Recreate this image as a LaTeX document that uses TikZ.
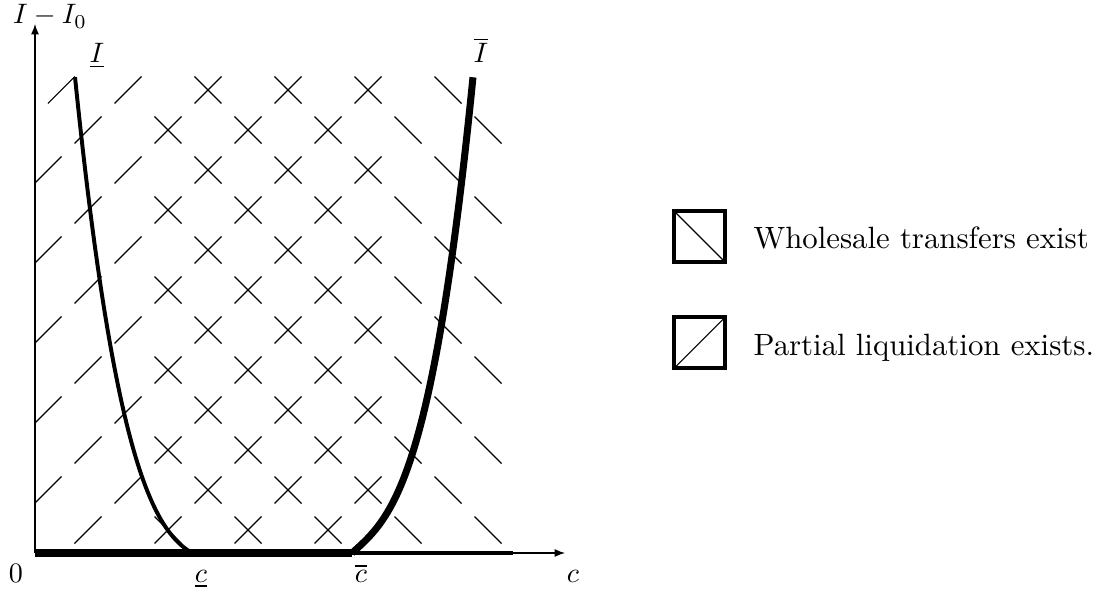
\documentclass[tikz,border=0pt]{standalone}
\usepackage{amsmath}
\usepackage{tikz}
\usetikzlibrary{arrows.meta,positioning}

\begin{document}
\begin{tikzpicture}[>=Latex,x=0.5cm,y=0.5cm,
  hatch/.style={line width=0.4pt},
  axislab/.style={anchor=base,font=\fontsize{10}{12}\selectfont},
  legbox/.style={draw,line width=1.4pt,minimum size=6.4mm,inner sep=0pt},
  legtext/.style={inner sep=0pt,anchor=base west,font=\fontsize{10.95}{13.6}\selectfont}]
\useasboundingbox (-0.875,-1.25) rectangle (26.625,13.825);
% axes
\coordinate (O) at (0,0);
\coordinate (ytip) at (0,13.225);
\coordinate (xtip) at (13.25,0);
\coordinate (clow) at (3.925,0);
\coordinate (chigh) at (7.925,0);
\coordinate (xend) at (11.95,0);
\draw[-{Latex[length=1.3mm,width=1mm]}] (O) -- (ytip);
\draw[-{Latex[length=1.3mm,width=1mm]}] (O) -- (xtip);
% marks: / partial liquidation, \ wholesale transfers
\foreach \j in {0,...,11}
  \foreach \i in {0,...,11}{
    \ifodd\numexpr\i+\j\relax
      \pgfmathsetmacro\xc{\i+0.325+0.335*(\i==0)*(\j==11)}
      \pgfmathsetmacro\yc{\j+0.575}
      \ifnum\i<9 \draw[hatch] (\xc-0.3375,\yc-0.3375) -- ++(0.675,0.675);\fi
      \ifnum\i>2 \draw[hatch] (\xc-0.3375,\yc+0.3375) -- ++(0.675,-0.675);\fi
    \fi}
% bottom segments
\draw[line width=2.5pt] (O) -- (chigh);
\draw[line width=1.25pt] (chigh) -- (xend);
% curves
\draw[line width=1.4pt] plot[domain=0:2.925,samples=80] ({3.925-\x},{0.5966*\x+0.4118*\x*\x+0.265*\x*\x*\x});
\draw[line width=2.5pt,line join=round] plot[domain=0:3.025,samples=80] ({7.925+\x},{0.8881*\x+0.3328*\x*\x*\x});
% labels
\node[axislab] (ylab) at (0.375,13.225) {$I-I_0$};
\node[axislab] (zero) at (-0.475,-0.725) {$0$};
\node[axislab] (clowlab) at (4.15,-0.725) {$\underline{c}$};
\node[axislab] (chighlab) at (8.15,-0.725) {$\overline{c}$};
\node[axislab] (xlab) at (13.45,-0.725) {$c$};
\node[axislab] (Ilowlab) at (1.55,12.25) {$\underline{I}$};
\node[axislab] (Ihighlab) at (11.15,12.25) {$\overline{I}$};
% legend
\node[legbox,path picture={\draw[hatch] (path picture bounding box.north west) -- (path picture bounding box.south east);}] (wsbox) at (16.6125,7.9125) {};
\node[legbox,below=6.4mm of wsbox,path picture={\draw[hatch] (path picture bounding box.south west) -- (path picture bounding box.north east);}] (plbox) {};
\node[legtext] (wstext) at ([xshift=3.25mm,yshift=-1.55mm]wsbox.east) {Wholesale transfers exist};
\node[legtext] (pltext) at ([xshift=3.25mm,yshift=-1.55mm]plbox.east) {Partial liquidation exists.};
\end{tikzpicture}
\end{document}
